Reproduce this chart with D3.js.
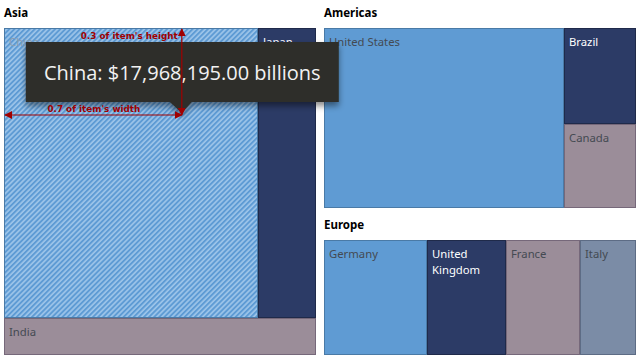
<!DOCTYPE html>
<html><head><meta charset="utf-8">
<script src="https://cdn.jsdelivr.net/npm/d3@7/dist/d3.min.js"></script>
<style>
html,body{margin:0;padding:0;background:#fff;}
svg{display:block;font-family:"Noto Sans","Open Sans",sans-serif;}
</style></head>
<body>
<svg id="c" width="640" height="360"></svg>
<script>
// ---- data ----
const groups = ["Asia", "Americas", "Europe"];
const asiaNames = ["China", "Japan", "India"];
const asiaValues = [17968, 4103, 2816];
const americasNames = ["United States", "Brazil", "Canada"];
const americasValues = [25462, 4074, 3565];
const europeNames = ["Germany", "United Kingdom", "France", "Italy"];
const europeValues = [4072, 3123, 2925, 2214];
const tooltipText = "China: $17,968,195.00 billions";

// ---- styles ----
const palette = {blue:"#5f9bd3", navy:"#2c3b66", mauve:"#9b8d99", slate:"#7b8ca6"};
const strokes = {blue:"#4a7aa6", navy:"#1f2a4a", mauve:"#76687a", slate:"#5d6c85"};
const colorOf = {China:"blue", Japan:"navy", India:"mauve", "United States":"blue", Brazil:"navy", Canada:"mauve",
  Germany:"blue", "United Kingdom":"navy", France:"mauve", Italy:"slate"};

const svg = d3.select("#c");
const defs = svg.append("defs");
const pat = defs.append("pattern").attr("id","hatch").attr("patternUnits","userSpaceOnUse")
  .attr("width",3.6).attr("height",3.6).attr("patternTransform","rotate(45)");
pat.append("rect").attr("width",3.6).attr("height",3.6).attr("fill","#9cc4e9");
pat.append("rect").attr("width",1.9).attr("height",3.6).attr("fill","#5e9bd4");
const sh = defs.append("filter").attr("id","shadow").attr("x","-10%").attr("y","-20%").attr("width","120%").attr("height","160%");
sh.append("feDropShadow").attr("dx",0).attr("dy",4).attr("stdDeviation",3).attr("flood-color","#000").attr("flood-opacity",0.45);
defs.append("marker").attr("id","arr").attr("viewBox","0 0 10 10").attr("refX",9).attr("refY",5)
  .attr("markerWidth",8).attr("markerHeight",8).attr("markerUnits","userSpaceOnUse").attr("orient","auto-start-reverse")
  .append("path").attr("d","M0,0L10,5L0,10z").attr("fill","#a00000");

// ---- group frames (layout) ----
const frames = {
  Asia: {tx:4, ty:17, x0:4, y0:28, x1:316, y1:355},
  Americas: {tx:324, ty:17, x0:324, y0:28, x1:636, y1:208},
  Europe: {tx:324, ty:229, x0:324, y0:240, x1:636, y1:355}
};

// hierarchy structures with split directions
const mkLeaf = (n,v)=>({name:n, value:v});
const trees = {
  Asia: {dir:"v", children:[{dir:"h", children:[mkLeaf(asiaNames[0],asiaValues[0]), mkLeaf(asiaNames[1],asiaValues[1])]}, mkLeaf(asiaNames[2],asiaValues[2])]},
  Americas: {dir:"h", children:[mkLeaf(americasNames[0],americasValues[0]), {dir:"v", children:[mkLeaf(americasNames[1],americasValues[1]), mkLeaf(americasNames[2],americasValues[2])]}]},
  Europe: {dir:"h", children:europeNames.map((n,i)=>mkLeaf(n,europeValues[i]))}
};
const tile = (node,x0,y0,x1,y1)=> (node.data.dir==="v" ? d3.treemapSlice : d3.treemapDice)(node,x0,y0,x1,y1);

let chinaNode = null;
groups.forEach(g=>{
  const f = frames[g];
  svg.append("text").attr("x",f.tx).attr("y",f.ty).attr("font-size",11.5).attr("font-weight","bold")
    .attr("fill","#000").text(g);
  const root = d3.hierarchy(trees[g]).sum(d=>d.value||0);
  d3.treemap().tile(tile).size([f.x1-f.x0, f.y1-f.y0]).round(true)(root);
  const leaves = root.leaves();
  const gg = svg.append("g").attr("transform",`translate(${f.x0},${f.y0})`);
  const cell = gg.selectAll("g").data(leaves).join("g");
  cell.append("rect")
    .attr("x",d=>d.x0+0.5).attr("y",d=>d.y0+0.5)
    .attr("width",d=>d.x1-d.x0-1).attr("height",d=>d.y1-d.y0-1)
    .attr("fill",d=>d.data.name==="China" ? "url(#hatch)" : palette[colorOf[d.data.name]])
    .attr("stroke",d=>strokes[colorOf[d.data.name]]).attr("stroke-width",1);
  cell.each(function(d){
    const dark = colorOf[d.data.name]==="navy";
    const words = d.data.name==="United Kingdom" ? ["United","Kingdom"] : [d.data.name];
    const t = d3.select(this).append("text").attr("font-size",11.3)
      .attr("fill", dark ? "#ffffff" : (d.data.name==="China" ? "#8a9db0" : "#444a52"));
    words.forEach((w,i)=>t.append("tspan").attr("x",d.x0+5).attr("y",d.y0+18+i*16).text(w));
  });
  leaves.forEach(d=>{ if(d.data.name==="China") chinaNode = {x0:d.x0+f.x0, y0:d.y0+f.y0, x1:d.x1+f.x0, y1:d.y1+f.y0}; });
});

// ---- tooltip + annotation ----
const ax = chinaNode.x0 + 0.7*(chinaNode.x1-chinaNode.x0);
const ay = chinaNode.y0 + 0.3*(chinaNode.y1-chinaNode.y0);
const tw = 313, th = 60, tx0 = ax - 156, ty0 = ay - 73;
const tip = svg.append("g");
tip.append("path")
  .attr("d",`M${tx0},${ty0}H${tx0+tw}V${ty0+th}H${ax+10}L${ax},${ay-2}L${ax-12},${ty0+th}H${tx0}Z`)
  .attr("fill","#2d2f2c").attr("filter","url(#shadow)");
tip.append("text").attr("x",tx0+tw/2).attr("y",ty0+38).attr("text-anchor","middle")
  .attr("font-size",20).attr("font-family","'Open Sans','Noto Sans',sans-serif").attr("fill","#f2f2f2").text(tooltipText);

const red = "#a00000";
svg.append("line").attr("x1",ax).attr("y1",ay).attr("x2",ax).attr("y2",chinaNode.y0+1)
  .attr("stroke",red).attr("stroke-width",1.2).attr("marker-start","url(#arr)").attr("marker-end","url(#arr)");
svg.append("line").attr("x1",chinaNode.x0+1).attr("y1",ay).attr("x2",ax).attr("y2",ay)
  .attr("stroke",red).attr("stroke-width",1.2).attr("marker-start","url(#arr)").attr("marker-end","url(#arr)");
svg.append("text").attr("x",ax-4).attr("y",chinaNode.y0+11).attr("text-anchor","end")
  .attr("font-weight","bold").attr("fill",red).attr("font-family","'DejaVu Sans',sans-serif").attr("font-size",8.8).text("0.3 of item's height");
svg.append("text").attr("x",(chinaNode.x0+ax)/2 + 1).attr("y",ay-3).attr("text-anchor","middle")
  .attr("font-weight","bold").attr("fill",red).attr("font-family","'DejaVu Sans',sans-serif").attr("font-size",8.8).text("0.7 of item's width");
</script>
</body></html>
